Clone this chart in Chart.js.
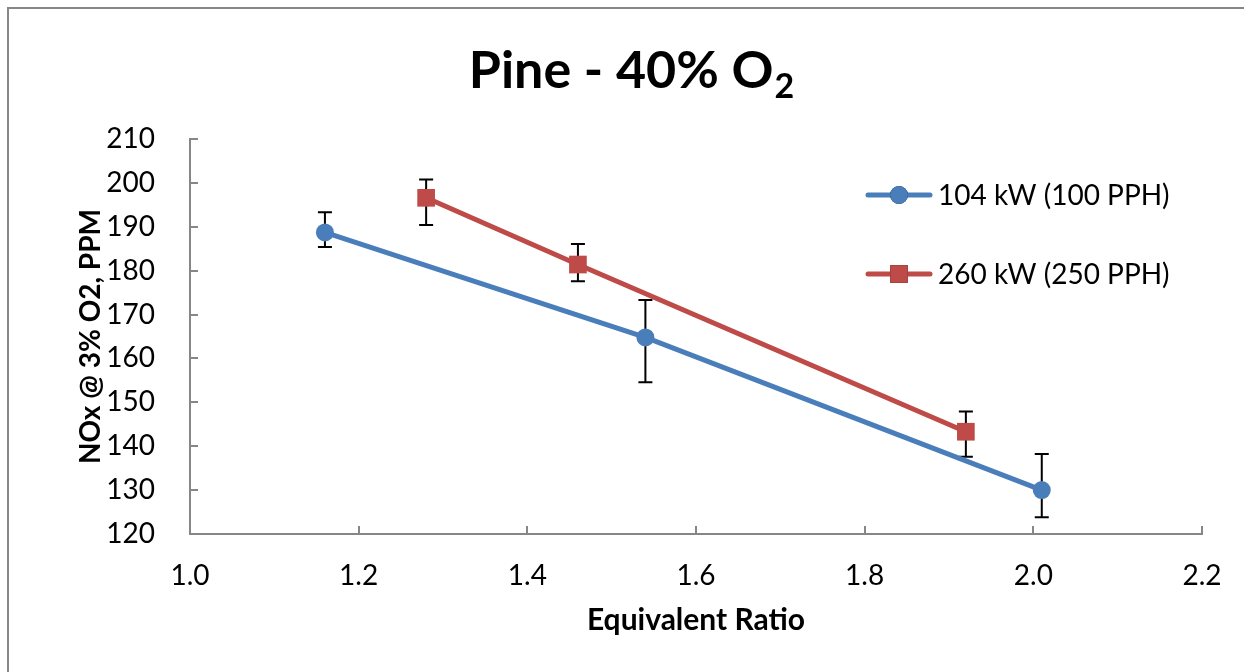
<!DOCTYPE html>
<html>
<head>
<meta charset="utf-8">
<script src="https://cdn.jsdelivr.net/npm/chart.js@4.4.1/dist/chart.umd.min.js"></script>
<style>
  html, body { margin: 0; padding: 0; background: #fff; overflow: hidden; }
  #wrap { position: relative; width: 1244px; height: 672px; }
  #wrap canvas { position: absolute; left: 0; top: 0; }
  #frame { position: absolute; left: 7px; top: 7px; width: 1300px; height: 720px;
           border: 2px solid #878787; box-sizing: border-box; pointer-events: none; }
</style>
</head>
<body>
<div id="wrap">
  <canvas id="chart" width="1244" height="672"></canvas>
  <div id="frame"></div>
</div>
<script>
'use strict';

// data
var seriesLabels = ['104 kW (100 PPH)', '260 kW (250 PPH)'];
var ratio104 = [1.16, 1.54, 2.01];
var nox104 = [188.7, 164.8, 130.0];
var errUp104 = [4.6, 8.5, 8.2];
var errDown104 = [3.3, 10.2, 6.2];
var ratio260 = [1.28, 1.46, 1.92];
var nox260 = [196.6, 181.4, 143.3];
var errUp260 = [4.2, 4.7, 4.6];
var errDown260 = [6.2, 3.8, 5.7];
var xRange = [1.0, 2.2, 0.2];
var yRange = [120, 210, 10];

var FONT = 'Lato, "Open Sans", sans-serif';
var AXIS_GREY = '#868686';
var BLUE = '#4a7ebb';
var RED = '#be4b48';

function toPoints(xs, ys) {
    return xs.map(function (x, i) { return { x: x, y: ys[i] }; });
}

/**
 * Title with a subscript 2
 */
var titlePlugin = {
    id: 'subTitle',
    afterDraw: function (chart) {
        var ctx = chart.ctx;
        var main = 'Pine - 40% O';
        var sub = '2';
        ctx.save();
        ctx.fillStyle = '#000';
        ctx.textBaseline = 'alphabetic';
        ctx.font = 'bold 52px ' + FONT;
        var wMain = ctx.measureText(main).width;
        ctx.font = 'bold 34px ' + FONT;
        var wSub = ctx.measureText(sub).width;
        var x0 = 631 - (wMain + wSub) / 2;
        ctx.font = 'bold 52px ' + FONT;
        ctx.fillText(main, x0, 88);
        ctx.font = 'bold 34px ' + FONT;
        ctx.fillText(sub, x0 + wMain + 1, 98);
        ctx.restore();
    }
};

/**
 * Tick marks drawn inward from the axes
 */
var innerTicksPlugin = {
    id: 'innerTicks',
    afterDatasetsDraw: function (chart) {
        var ctx = chart.ctx;
        var xs = chart.scales.x;
        var ys = chart.scales.y;
        var area = chart.chartArea;
        ctx.save();
        ctx.strokeStyle = AXIS_GREY;
        ctx.lineWidth = 2;
        ctx.beginPath();
        ys.ticks.forEach(function (t) {
            var py = Math.round(ys.getPixelForValue(t.value));
            ctx.moveTo(area.left, py);
            ctx.lineTo(area.left + 8, py);
        });
        xs.ticks.forEach(function (t) {
            var px = Math.round(xs.getPixelForValue(t.value));
            ctx.moveTo(px, area.bottom);
            ctx.lineTo(px, area.bottom - 8);
        });
        ctx.stroke();
        ctx.restore();
    }
};

/**
 * Vertical error bars with caps
 */
var errorBarsPlugin = {
    id: 'errorBars',
    beforeDatasetsDraw: function (chart) {
        var ctx = chart.ctx;
        var xs = chart.scales.x;
        var ys = chart.scales.y;
        ctx.save();
        ctx.strokeStyle = '#000';
        ctx.lineWidth = 2;
        chart.data.datasets.forEach(function (ds) {
            ds.data.forEach(function (p, i) {
                var px = xs.getPixelForValue(p.x);
                var top = ys.getPixelForValue(p.y + ds.errUp[i]);
                var bottom = ys.getPixelForValue(p.y - ds.errDown[i]);
                ctx.beginPath();
                ctx.moveTo(px, top);
                ctx.lineTo(px, bottom);
                ctx.moveTo(px - 7, top);
                ctx.lineTo(px + 7, top);
                ctx.moveTo(px - 7, bottom);
                ctx.lineTo(px + 7, bottom);
                ctx.stroke();
            });
        });
        ctx.restore();
    }
};

/**
 * Legend inside the plot, one row per dataset
 */
var legendPlugin = {
    id: 'insideLegend',
    afterDraw: function (chart) {
        var ctx = chart.ctx;
        var rows = [195, 274];
        ctx.save();
        chart.data.datasets.forEach(function (ds, i) {
            var y = rows[i];
            ctx.strokeStyle = ds.borderColor;
            ctx.lineWidth = ds.borderWidth;
            ctx.lineCap = 'round';
            ctx.beginPath();
            ctx.moveTo(868, y);
            ctx.lineTo(930, y);
            ctx.stroke();
            Chart.helpers.drawPoint(ctx, {
                pointStyle: ds.pointStyle,
                radius: ds.pointRadius,
                borderWidth: 0,
                rotation: 0
            }, 899, y);
            ctx.fillStyle = ds.backgroundColor;
            ctx.fill();
            ctx.fillStyle = '#000';
            ctx.font = '28px ' + FONT;
            ctx.textBaseline = 'middle';
            ctx.fillText(ds.label, 938, y + 1);
        });
        ctx.restore();
    }
};

var datasets = [
    {
        label: seriesLabels[0],
        data: toPoints(ratio104, nox104),
        errUp: errUp104,
        errDown: errDown104,
        borderColor: BLUE,
        backgroundColor: BLUE,
        borderWidth: 5,
        pointStyle: 'circle',
        pointRadius: 9,
        pointBorderWidth: 0
    },
    {
        label: seriesLabels[1],
        data: toPoints(ratio260, nox260),
        errUp: errUp260,
        errDown: errDown260,
        borderColor: RED,
        backgroundColor: RED,
        borderWidth: 5,
        pointStyle: 'rect',
        pointRadius: 12.5,
        pointBorderWidth: 0
    }
];

new Chart(document.getElementById('chart').getContext('2d'), {
    type: 'line',
    data: { datasets: datasets },
    options: {
        responsive: false,
        animation: false,
        events: [],
        layout: { padding: { top: 139, right: 42, left: 0, bottom: 0 } },
        plugins: {
            legend: { display: false },
            title: { display: false },
            tooltip: { enabled: false }
        },
        scales: {
            x: {
                type: 'linear',
                min: xRange[0],
                max: xRange[1],
                afterFit: function (s) { s.height = 138; },
                grid: { display: false },
                border: { display: true, color: AXIS_GREY, width: 2 },
                ticks: {
                    stepSize: xRange[2],
                    color: '#000',
                    padding: 17,
                    maxRotation: 0,
                    font: { family: FONT, size: 28 },
                    callback: function (v) { return Number(v).toFixed(1); }
                },
                title: {
                    display: true,
                    text: 'Equivalent Ratio',
                    color: '#000',
                    font: { family: FONT, size: 30, weight: 'bold' },
                    padding: { top: 0, bottom: 34 }
                }
            },
            y: {
                type: 'linear',
                min: yRange[0],
                max: yRange[1],
                afterFit: function (s) { s.width = 190; },
                grid: { display: false },
                border: { display: true, color: AXIS_GREY, width: 2 },
                ticks: {
                    stepSize: yRange[2],
                    color: '#000',
                    padding: 27,
                    font: { family: FONT, size: 28 }
                },
                title: {
                    display: true,
                    text: 'NOx @ 3% O2, PPM',
                    color: '#000',
                    font: { family: FONT, size: 28, weight: 'bold' },
                    padding: { top: 74, bottom: 0 }
                }
            }
        }
    },
    plugins: [errorBarsPlugin, innerTicksPlugin, titlePlugin, legendPlugin]
});
</script>
</body>
</html>
